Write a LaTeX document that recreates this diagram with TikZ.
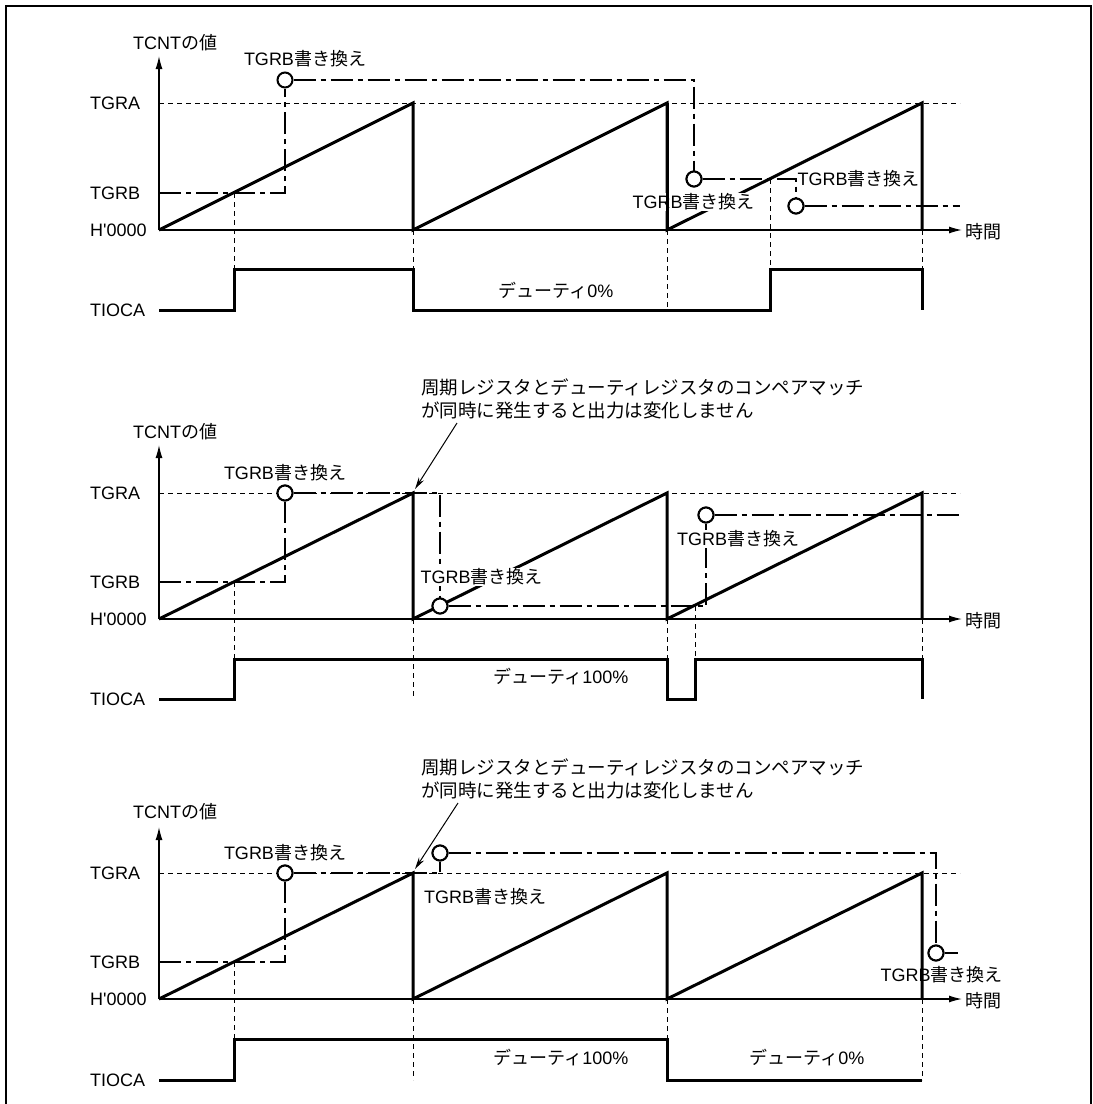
\documentclass[tikz,border=0pt]{standalone}
\usepackage{fontspec}
\setmainfont{Liberation Sans}
\newfontfamily\jp{Noto Sans CJK JP}
\usetikzlibrary{arrows.meta}
\newcommand\tgrbtxt{TGRB{\jp 書き換え}}
\newcommand\tcnttxt{TCNT{\jp の値}}
\newcommand\dutytxt[1]{{\jp デューティ}#1\%}
\newcommand\hzero{H\XeTeXglyph\XeTeXcharglyph"27 0000}
\begin{document}
\begin{tikzpicture}[x=1pt,y=-1pt,
  lab/.style={font=\fontsize{18}{22}\selectfont, inner sep=0pt},
  wlab/.style={lab, fill=white, inner sep=1pt},
  notelab/.style={font=\jp\fontsize{18.5}{23}\selectfont, inner sep=0pt, anchor=west, align=left},
  saw/.style={line width=3pt, line join=miter},
  sig/.style={line width=3pt, line join=miter},
  axis/.style={line width=1.3pt, -{Latex[length=13pt,width=7pt]}},
  guide/.style={line width=1pt, dash pattern=on 5pt off 4pt},
  chain/.style={line width=1.3pt, dash pattern=on 22pt off 5pt on 5pt off 5pt},
  ring/.style={circle, draw, line width=2pt, fill=white, minimum size=15pt, inner sep=0pt},
  note/.style={line width=1pt, -{Stealth[length=12pt,width=6pt]}},
  frame/.style={line width=2pt}
]
\useasboundingbox (0,0) rectangle (1093,1104);
\draw[frame] (6,1110) -- (6,6) -- (1091,6) -- (1091,1110);

% ================= Panel 1 =================
\coordinate (p1o) at (159,230);
\coordinate (p1y) at (159,56);
\coordinate (p1x) at (962,230);
\coordinate (p1a) at (159,103);
\coordinate (p1ae) at (960,103);
\coordinate (p1b) at (159,193);
\node[lab, anchor=west] (p1tcnt) at (133,43) {\tcnttxt};
\node[lab, anchor=west] (p1tgra) at (90,103) {TGRA};
\node[lab, anchor=west] (p1tgrb) at (90,193) {TGRB};
\node[lab, anchor=west] (p1h) at (90,230) {\hzero};
\node[lab, anchor=west] (p1tioca) at (90,310) {TIOCA};
\node[lab, anchor=west] (p1time) at (965,232) {\jp 時間};
\draw[guide] (p1a) -- (p1ae);
\draw[guide] (234,193) -- (234,310);
\draw[guide] (413,230) -- (413,310);
\draw[guide] (667,230) -- (667,310);
\draw[guide] (770,179) -- (770,310);
\draw[guide] (922,230) -- (922,269);
\node[ring] (p1c1) at (285,80) {};
\node[ring] (p1c2) at (694,179) {};
\node[ring] (p1c3) at (796,206) {};
\coordinate (p1k1) at (285,193);
\coordinate (p1k2) at (694,80);
\coordinate (p1k3) at (796,179);
\coordinate (p1k4) at (960,206);
\draw[chain] (p1b) -- (p1k1) -- (p1c1.south);
\draw[chain] (p1c1.east) -- (p1k2) -- (p1c2.north);
\draw[chain] (p1c2.east) -- (p1k3) -- (p1c3.north);
\draw[chain] (p1c3.east) -- (p1k4);
\draw[axis] (p1o) -- (p1y);
\draw[axis] (p1o) -- (p1x);
\draw[saw] (159,230) -- (413,103) -- (413,230) -- (667,103) -- (667,230) -- (922,103) -- (922,230);
\draw[sig] (159,310) -- (234,310) -- (234,269) -- (413,269) -- (413,310) -- (770,310) -- (770,269) -- (922,269) -- (922,310);
\node[lab] (p1l1) at (305,59) {\tgrbtxt};
\node[wlab] (p1l2) at (693.5,202) {\tgrbtxt};
\node[lab] (p1l3) at (858.5,179) {\tgrbtxt};
\node[lab] (p1d) at (556,291) {\dutytxt{0}};
\draw[saw] (667,103) -- (667,230);
\node[ring] (p1c2b) at (694,179) {};
\node[ring] (p1c3b) at (796,206) {};

% ================= Panel 2 =================
\coordinate (p2o) at (159,619);
\coordinate (p2y) at (159,445);
\coordinate (p2x) at (962,619);
\coordinate (p2a) at (159,493);
\coordinate (p2ae) at (960,493);
\coordinate (p2b) at (159,582);
\node[lab, anchor=west] (p2tcnt) at (133,432) {\tcnttxt};
\node[lab, anchor=west] (p2tgra) at (90,493) {TGRA};
\node[lab, anchor=west] (p2tgrb) at (90,582) {TGRB};
\node[lab, anchor=west] (p2h) at (90,619) {\hzero};
\node[lab, anchor=west] (p2tioca) at (90,699) {TIOCA};
\node[lab, anchor=west] (p2time) at (965,621) {\jp 時間};
\draw[guide] (p2a) -- (p2ae);
\draw[guide] (234,582) -- (234,699);
\draw[guide] (413,619) -- (413,699);
\draw[guide] (667,619) -- (667,699);
\draw[guide] (695,606) -- (695,659);
\draw[guide] (922,619) -- (922,659);
\node[ring] (p2c1) at (285,493) {};
\node[ring] (p2c2) at (440,606) {};
\node[ring] (p2c3) at (706,515) {};
\coordinate (p2k1) at (285,582);
\coordinate (p2k2) at (440,493);
\coordinate (p2k3) at (706,606);
\coordinate (p2k4) at (960,515);
\draw[chain] (p2b) -- (p2k1) -- (p2c1.south);
\draw[chain] (p2c1.east) -- (p2k2) -- (p2c2.north);
\draw[chain] (p2c2.east) -- (p2k3) -- (p2c3.south);
\draw[chain] (p2c3.east) -- (p2k4);
\draw[axis] (p2o) -- (p2y);
\draw[axis] (p2o) -- (p2x);
\draw[saw] (159,619) -- (413,493) -- (413,619) -- (667,493) -- (667,619) -- (922,493) -- (922,619);
\draw[sig] (159,699) -- (234,699) -- (234,659) -- (667,659) -- (667,699) -- (695,699) -- (695,659) -- (922,659) -- (922,699);
\node[lab] (p2l1) at (285,473) {\tgrbtxt};
\node[wlab] (p2l2) at (481.5,577) {\tgrbtxt};
\node[wlab] (p2l3) at (738,539) {\tgrbtxt};
\node[lab] (p2d) at (561,677) {\dutytxt{100}};
\node[ring] (p2c1b) at (285,493) {};
\node[ring] (p2c2b) at (440,606) {};
\node[ring] (p2c3b) at (706,515) {};
\node[notelab] (p2note) at (421,398.5) {周期レジスタとデューティレジスタのコンペアマッチ\\が同時に発生すると出力は変化しません};
\coordinate (p2ns) at (457,423);
\coordinate (p2ne) at (415,489);
\draw[note] (p2ns) -- (p2ne);

% ================= Panel 3 =================
\coordinate (p3o) at (159,999);
\coordinate (p3y) at (159,827);
\coordinate (p3x) at (962,999);
\coordinate (p3a) at (159,873);
\coordinate (p3ae) at (960,873);
\coordinate (p3b) at (159,962);
\node[lab, anchor=west] (p3tcnt) at (133,812) {\tcnttxt};
\node[lab, anchor=west] (p3tgra) at (90,873) {TGRA};
\node[lab, anchor=west] (p3tgrb) at (90,962) {TGRB};
\node[lab, anchor=west] (p3h) at (90,999) {\hzero};
\node[lab, anchor=west] (p3tioca) at (90,1080) {TIOCA};
\node[lab, anchor=west] (p3time) at (965,1001) {\jp 時間};
\draw[guide] (p3a) -- (p3ae);
\draw[guide] (234,962) -- (234,1080);
\draw[guide] (413,999) -- (413,1080);
\draw[guide] (667,999) -- (667,1039);
\draw[guide] (922,999) -- (922,1080);
\node[ring] (p3c1) at (285,873) {};
\node[ring] (p3c2) at (440,853) {};
\node[ring] (p3c3) at (936,953) {};
\coordinate (p3k1) at (285,962);
\coordinate (p3k2) at (440,873);
\coordinate (p3k3) at (936,853);
\coordinate (p3k4) at (958,953);
\draw[chain] (p3b) -- (p3k1) -- (p3c1.south);
\draw[chain] (p3c1.east) -- (p3k2) -- (p3c2.south);
\draw[chain] (p3c2.east) -- (p3k3) -- (p3c3.north);
\draw[chain] (p3c3.east) -- (p3k4);
\draw[axis] (p3o) -- (p3y);
\draw[axis] (p3o) -- (p3x);
\draw[saw] (159,999) -- (413,873) -- (413,999) -- (667,873) -- (667,999) -- (922,873) -- (922,999);
\draw[sig] (159,1080) -- (234,1080) -- (234,1039) -- (667,1039) -- (667,1080) -- (922,1080);
\node[lab] (p3l1) at (285,853) {\tgrbtxt};
\node[lab] (p3l2) at (485,897) {\tgrbtxt};
\node[lab] (p3l3) at (941.5,975) {\tgrbtxt};
\node[lab] (p3d1) at (561,1058) {\dutytxt{100}};
\node[lab] (p3d2) at (807,1058) {\dutytxt{0}};
\node[ring] (p3c1b) at (285,873) {};
\node[ring] (p3c2b) at (440,853) {};
\node[ring] (p3c3b) at (936,953) {};
\node[notelab] (p3note) at (421,779) {周期レジスタとデューティレジスタのコンペアマッチ\\が同時に発生すると出力は変化しません};
\coordinate (p3ns) at (458,803);
\coordinate (p3ne) at (415,869);
\draw[note] (p3ns) -- (p3ne);
\end{tikzpicture}
\end{document}
